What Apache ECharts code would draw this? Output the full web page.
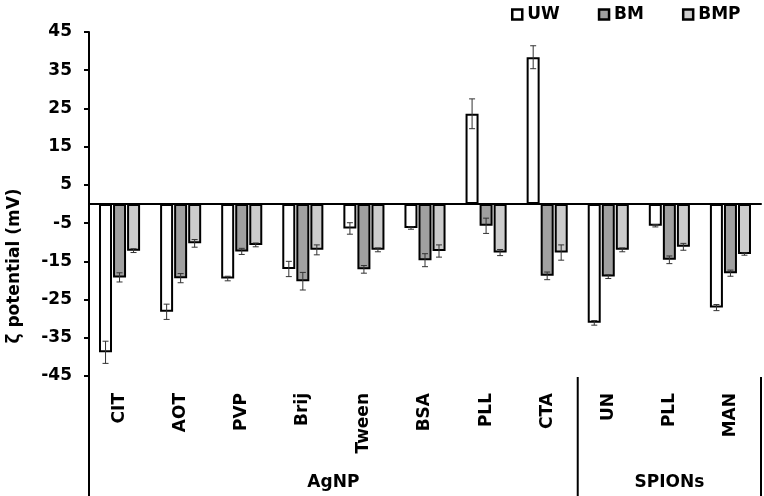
<!DOCTYPE html>
<html>
<head>
<meta charset="utf-8">
<script src="https://cdn.jsdelivr.net/npm/echarts@6/dist/echarts.min.js"></script>
<style>html,body{margin:0;padding:0;background:#fff}#c{width:764px;height:496px}</style>
</head>
<body>
<div id="c"></div>
<script>
const categories = ['CIT','AOT','PVP','Brij','Tween','BSA','PLL','CTA','UN','PLL','MAN'];
const groups = [{name:'AgNP', from:0, to:7}, {name:'SPIONs', from:8, to:10}];
const seriesNames = ['UW','BM','BMP'];
const uw    = [-38.8,-28.2,-19.5,-17.0,-6.4,-6.3,23.6,38.4,-31.1,-5.7,-27.1];
const uwErr = [2.9,2.0,0.6,2.0,1.5,0.3,3.9,3.0,0.6,0.3,0.8];
const bm    = [-19.2,-19.4,-12.4,-20.2,-17.1,-14.7,-5.7,-18.8,-19.0,-14.6,-18.1];
const bmErr = [1.2,1.2,0.8,2.3,1.0,1.7,2.0,1.0,0.5,1.0,0.8];
const bmp   = [-12.2,-10.3,-10.7,-12.0,-12.0,-12.3,-12.7,-12.7,-12.0,-11.2,-13.1];
const bmpErr= [0.5,1.0,0.5,1.3,0.5,1.6,0.8,2.0,0.5,0.9,0.3];
const yTicks = [-45,-35,-25,-15,-5,5,15,25,35,45];

const FONT = 'DejaVu Sans';
const colors = ['#ffffff','#a0a0a0','#cccccc'];
const BAR_W = 13, BAR_SP = 14;
const values = [uw, bm, bmp];
const errs = [uwErr, bmErr, bmpErr];

const chart = echarts.init(document.getElementById('c'), null, {renderer:'canvas'});

const barSeries = seriesNames.map((n,k)=>({
  name:n, type:'bar', xAxisIndex:0, yAxisIndex:0,
  barWidth:BAR_W, barGap:'8%',
  itemStyle:{color:colors[k], borderColor:'#000', borderWidth:2},
  data: values[k], z:2, animation:false
}));
const errSeries = seriesNames.map((n,k)=>({
  type:'custom', xAxisIndex:0, yAxisIndex:0, z:5, animation:false,
  data: values[k].map((v,i)=>[i, v, errs[k][i]]),
  encode:{x:0,y:1},
  renderItem:function(params, api){
    const i = api.value(0), v = api.value(1), e = api.value(2);
    const off = (k-1)*BAR_SP;
    const top = api.coord([i, v+e]);
    const bot = api.coord([i, v-e]);
    const x = top[0] + off;
    const cw = 3;
    const st = {stroke:'#333', lineWidth:1};
    return {type:'group', children:[
      {type:'line', shape:{x1:x,y1:top[1],x2:x,y2:bot[1]}, style:st},
      {type:'line', shape:{x1:x-cw,y1:top[1],x2:x+cw,y2:top[1]}, style:st},
      {type:'line', shape:{x1:x-cw,y1:bot[1],x2:x+cw,y2:bot[1]}, style:st}
    ]};
  }
}));

chart.setOption({
  animation:false,
  textStyle:{fontFamily:FONT},
  legend:{
    data:seriesNames, left:506, top:1, icon:'rect', itemWidth:10, itemHeight:10, itemGap:38,
    textStyle:{fontFamily:FONT, fontWeight:'bold', fontSize:17, color:'#000'},
    itemStyle:{borderColor:'#000', borderWidth:2.5}
  },
  grid:{left:89, right:3, top:32, bottom:120, containLabel:false},
  xAxis:[
    {type:'category', data:categories, gridIndex:0,
     axisLine:{onZero:true, lineStyle:{color:'#000', width:2}},
     axisTick:{show:false}, axisLabel:{show:false}, splitLine:{show:false}},
    {type:'category', data:categories, gridIndex:0, position:'bottom',
     axisLine:{show:false, onZero:false}, axisTick:{show:false}, splitLine:{show:false},
     axisLabel:{rotate:90, margin:17, interval:0, fontFamily:FONT, fontWeight:'bold', fontSize:17, color:'#000'}}
  ],
  yAxis:{type:'value', min:yTicks[0], max:yTicks[yTicks.length-1], interval:10,
    axisLine:{show:true, lineStyle:{color:'#000', width:2}},
    axisTick:{show:true, length:5, lineStyle:{color:'#000', width:2}},
    axisLabel:{margin:17, fontFamily:FONT, fontWeight:'bold', fontSize:17, color:'#000'},
    splitLine:{show:false}},
  series: barSeries.concat(errSeries)
});

// decorations: axis extension, group separators, group labels, y-axis name
const px = i => chart.convertToPixel({xAxisIndex:0}, i);
const yPix = v => chart.convertToPixel({yAxisIndex:0}, v);
const half = (px(1)-px(0))/2;
const axisX = px(0)-half;
const yBottom = yPix(yTicks[0]);
const H = chart.getHeight();
const elems = [];
elems.push({type:'line', shape:{x1:axisX, y1:yBottom, x2:axisX, y2:H}, style:{stroke:'#000', lineWidth:2}, z:10});
groups.forEach(g=>{
  const l = px(g.from)-half, r = px(g.to)+half;
  elems.push({type:'line', shape:{x1:r, y1:yBottom+1, x2:r, y2:H}, style:{stroke:'#000', lineWidth:2}, z:10});
  elems.push({type:'text', x:(l+r)/2, y:483, style:{text:g.name, fontFamily:FONT, fontWeight:'bold', fontSize:17, fill:'#000', align:'center', verticalAlign:'middle'}, z:10});
});
elems.push({type:'text', x:15, y:266, rotation:Math.PI/2,
  style:{text:'ζ potential (mV)', fontFamily:FONT, fontWeight:'bold', fontSize:17, fill:'#000', align:'center', verticalAlign:'middle'}, z:10});
chart.setOption({graphic:elems});
</script>
</body>
</html>
